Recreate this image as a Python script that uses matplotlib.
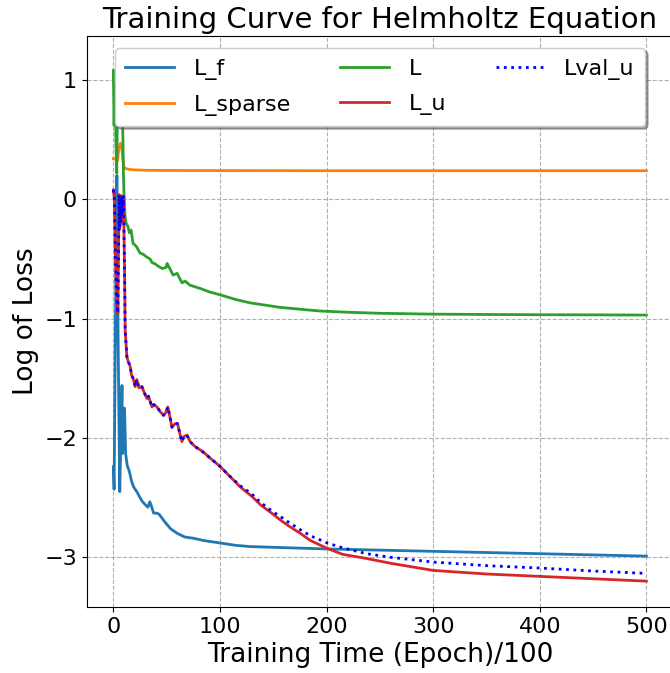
import numpy as np
import matplotlib
matplotlib.use('Agg')
import matplotlib.pyplot as plt

# epochs (x100) and log-loss values
ep_f = [0, 0.7, 2, 3.3, 4.5, 6, 7, 8.1, 8.7, 9.5, 10.5, 11.5, 13, 15, 17, 19, 22, 25, 27, 30, 32.4,
        34.2, 36, 37.8, 41, 43, 48, 53.6, 60, 67, 74.9, 85, 100, 115, 128, 145, 163, 200, 250, 300,
        350, 400, 450, 500]
loss_f = [-2.24, -2.43, -1.0, 0.2, -1.2, -2.45, -2.05, -1.56, -2.13, -1.85, -1.75, -2.13, -2.23,
          -2.28, -2.36, -2.41, -2.45, -2.50, -2.53, -2.56, -2.58, -2.535, -2.58, -2.63, -2.63,
          -2.64, -2.70, -2.76, -2.80, -2.83, -2.84, -2.86, -2.88, -2.90, -2.91, -2.915, -2.92,
          -2.93, -2.94, -2.95, -2.96, -2.97, -2.98, -2.99]

ep_sparse = [0, 2.3, 3, 4, 5, 6, 6.7, 8, 9, 10, 11, 13, 16, 20, 30, 50, 100, 200, 300, 400, 500]
loss_sparse = [0.34, 0.34, 0.31, 0.33, 0.41, 0.46, 0.47, 0.42, 0.33, 0.27, 0.26, 0.255, 0.25,
               0.247, 0.244, 0.242, 0.241, 0.24, 0.24, 0.24, 0.24]

ep_total = [0, 0.7, 1.5, 2.5, 3.2, 4, 5, 6, 7, 8, 9, 9.5, 10, 11, 12, 13.8, 15, 16.6, 18.5, 20, 22,
            25, 28, 30.7, 34.4, 36.3, 39, 42, 46, 49.5, 50.4, 53, 56, 59.8, 64.4, 67.3, 72, 81.3,
            90, 100, 115, 128, 145, 156, 180, 194, 222, 250, 300, 350, 400, 450, 500]
loss_total = [1.08, 0.62, 0.95, 0.45, 0.22, 0.9, 1.15, 1.0, 1.1, 0.95, 0.5, 0.2, 0.05, -0.146,
              -0.2, -0.23, -0.28, -0.257, -0.37, -0.38, -0.40, -0.45, -0.46, -0.48, -0.50,
              -0.53, -0.54, -0.56, -0.58, -0.57, -0.537, -0.58, -0.635, -0.62, -0.70, -0.685,
              -0.72, -0.746, -0.775, -0.80, -0.84, -0.867, -0.89, -0.905, -0.925, -0.936,
              -0.947, -0.955, -0.962, -0.965, -0.967, -0.968, -0.97]

ep_u = [0, 1, 2, 3, 4.2, 5, 5.4, 6, 6.5, 7, 7.5, 8, 8.5, 9, 9.5, 10.5, 11.1, 12.7, 14, 15.8, 17,
        18.5, 20.5, 22, 24, 26.8, 29, 31.5, 33, 36.2, 38, 40.9, 44, 47, 49, 51.1, 53, 55, 58,
        60.2, 62, 64.3, 66, 69, 72, 75.2, 78, 81.5, 86, 90.9, 95, 100.3, 108, 119, 130, 138,
        150, 157, 165, 175.5, 185, 200.5, 215, 237.5, 260, 300, 350, 400, 450, 500]
loss_u = [0.08, 0.0, -0.5, -0.8, -0.955, -0.3, 0.04, -0.25, 0.0, -0.2, 0.03, -0.15, 0.02, -0.1,
          0.03, -0.6, -1.10, -1.32, -1.36, -1.40, -1.47, -1.50, -1.57, -1.51, -1.58, -1.57,
          -1.62, -1.67, -1.65, -1.74, -1.72, -1.74, -1.78, -1.81, -1.79, -1.74, -1.82, -1.91,
          -1.88, -1.88, -1.95, -2.03, -1.99, -1.975, -2.03, -2.06, -2.08, -2.10, -2.13, -2.17,
          -2.20, -2.24, -2.31, -2.41, -2.49, -2.56, -2.64, -2.69, -2.74, -2.80, -2.86, -2.925,
          -2.975, -3.01, -3.05, -3.11, -3.14, -3.16, -3.18, -3.20]
lossval_u = [0.08, 0.0, -0.5, -0.8, -0.955, -0.3, 0.04, -0.25, 0.0, -0.2, 0.03, -0.15, 0.02, -0.1,
             0.03, -0.6, -1.10, -1.32, -1.36, -1.40, -1.47, -1.50, -1.57, -1.51, -1.58, -1.57,
             -1.62, -1.67, -1.65, -1.74, -1.72, -1.74, -1.78, -1.81, -1.79, -1.74, -1.82, -1.91,
             -1.88, -1.88, -1.95, -2.03, -1.99, -1.975, -2.03, -2.06, -2.08, -2.10, -2.13, -2.17,
             -2.20, -2.24, -2.31, -2.40, -2.47, -2.54, -2.62, -2.66, -2.71, -2.77, -2.82, -2.88,
             -2.92, -2.97, -3.00, -3.04, -3.07, -3.09, -3.115, -3.135]

fig = plt.figure(figsize=(6.7, 6.73), dpi=100)
ax = fig.add_axes([0.1294, 0.098, 0.8751, 0.8485])

ax.plot(ep_f, loss_f, color='C0', lw=2, label='L_f')
ax.plot(ep_sparse, loss_sparse, color='C1', lw=2, label='L_sparse')
ax.plot(ep_total, loss_total, color='C2', lw=2, label='L')
ax.plot(ep_u, loss_u, color='C3', lw=2, label='L_u')
ax.plot(ep_u, lossval_u, 'b:', lw=2, label='Lval_u')

ax.set_xlim(-25, 525)
ax.set_ylim(-3.417, 1.369)
ax.grid(True, linestyle='--')
ax.tick_params(labelsize=16)
ax.set_xlabel('Training Time (Epoch)/100', fontsize=19)
ax.set_ylabel('Log of Loss', fontsize=19)
ax.set_title('Training Curve for Helmholtz Equation', fontsize=21)
ax.legend(loc='upper center', ncol=3, fontsize=16, shadow=True, framealpha=1,
          handlelength=2.2, handletextpad=0.88, columnspacing=2.23,
          borderpad=0.47, labelspacing=0.68, borderaxespad=0.55)

fig.savefig('out.png')
